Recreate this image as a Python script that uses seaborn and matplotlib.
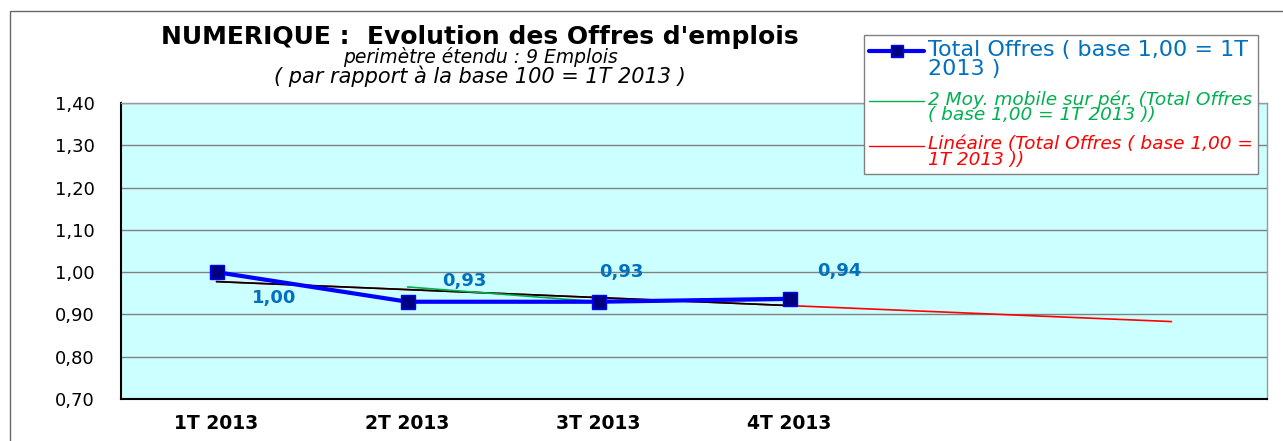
import numpy as np
import pandas as pd
import matplotlib
matplotlib.use("Agg")
import matplotlib.pyplot as plt
import seaborn as sns
from matplotlib.lines import Line2D
from matplotlib.patches import Rectangle
from matplotlib.legend_handler import HandlerLine2D

categories = ["1T 2013", "2T 2013", "3T 2013", "4T 2013"]
values = [1.00, 0.93, 0.93, 0.937]
value_labels = ["1,00", "0,93", "0,93", "0,94"]
ytick_labels = ["0,70", "0,80", "0,90", "1,00", "1,10", "1,20", "1,30", "1,40"]
n_slots = 6
forecast_periods = 2

sns.set_style("white")
plt.rcParams['font.family'] = ['DejaVu Sans']
plt.rcParams['text.color'] = 'black'
plt.rcParams['xtick.color'] = 'black'
plt.rcParams['ytick.color'] = 'black'

fig = plt.figure(figsize=(12.83, 4.41), dpi=100)
ax = fig.add_axes([121/1283, 1-399/441, (1267-121)/1283, (399-103)/441])
ax.set_facecolor("#CCFFFF")

x = np.arange(len(values))
df = pd.DataFrame({"x": x, "y": values})

# linear trend
slope, intercept = np.polyfit(x, values, 1)
xt = np.array([0, len(values) - 1 + forecast_periods])
ax.plot(xt, intercept + slope * xt, color="#FF0000", lw=1.2, zorder=2)
xb = np.array([0, len(values) - 1])
ax.plot(xb, intercept + slope * xb, color="#000000", lw=1.2, zorder=3)

# moving average 2 periods
ma = pd.Series(values).rolling(2).mean()
ax.plot(x[1:], ma[1:], color="#00B050", lw=1.2, zorder=3)

sns.lineplot(data=df, x="x", y="y", ax=ax, color="#0000FF", lw=3,
             marker="s", markersize=10, markerfacecolor="#000080",
             markeredgecolor="#0000FF", markeredgewidth=1, zorder=4)

offsets = [(0.3, -0.06), (0.3, 0.05), (0.12, 0.07), (0.26, 0.065)]
for xi, (yi, lab, off) in enumerate(zip(values, value_labels, offsets)):
    ax.text(xi + off[0], yi + off[1], lab, color="#0070C0", fontsize=13,
            fontweight="bold", ha="center", va="center", zorder=5)

ax.set_xlim(-0.5, n_slots - 0.5)
ax.set_ylim(0.70, 1.40)
ax.set_yticks(np.arange(0.70, 1.401, 0.10))
ax.set_yticklabels(ytick_labels, fontsize=13)
ax.set_xticks(np.arange(-0.5, n_slots, 1.0))
ax.set_xticklabels([])
ax.set_xticks(np.arange(len(categories)), minor=True)
ax.set_xticklabels(categories, minor=True, fontsize=13.5, fontweight="bold")
ax.tick_params(axis="x", which="minor", length=0, pad=11)
ax.tick_params(axis="x", which="major", length=6, direction="out", color="#555555")
ax.tick_params(axis="y", length=6, direction="out", color="#555555", pad=13)
ax.grid(axis="y", color="#808080", lw=1)
ax.set_xlabel("")
ax.set_ylabel("")
for s in ["top", "right"]:
    ax.spines[s].set_color("#999999")
    ax.spines[s].set_linewidth(1)
for s in ["left", "bottom"]:
    ax.spines[s].set_color("#000000")
    ax.spines[s].set_linewidth(1.5)

# chart border
fig.patches.append(Rectangle((10/1283, -0.1), 1.2, 1 - 11/441 + 0.1, transform=fig.transFigure,
                             fill=False, edgecolor="#666666", lw=1, zorder=0))

fig.text(480/1283, 1-37/441, "NUMERIQUE :  Evolution des Offres d'emplois",
         fontsize=18, fontweight="bold", ha="center", va="center")
fig.text(480/1283, 1-57/441, "perimètre étendu : 9 Emplois",
         fontsize=13.5, style="italic", ha="center", va="center")
fig.text(480/1283, 1-76/441, "( par rapport à la base 100 = 1T 2013 )",
         fontsize=15, style="italic", ha="center", va="center")


class RaisedHandler(HandlerLine2D):
    def __init__(self, raise_pts, **kw):
        super().__init__(**kw)
        self.raise_pts = raise_pts

    def create_artists(self, legend, orig_handle, xdescent, ydescent,
                       width, height, fontsize, trans):
        return super().create_artists(legend, orig_handle, xdescent,
                                      ydescent - 2 * self.raise_pts,
                                      width, height, fontsize, trans)


handles = [
    Line2D([], [], color="#0000FF", lw=3, marker="s", markersize=8,
           markerfacecolor="#000080", markeredgecolor="#0000FF"),
    Line2D([], [], color="#00B050", lw=1),
    Line2D([], [], color="#FF0000", lw=1),
]
labels = [
    "Total Offres ( base 1,00 = 1T\n2013 )",
    "2 Moy. mobile sur pér. (Total Offres\n( base 1,00 = 1T 2013 ))",
    "Linéaire (Total Offres ( base 1,00 =\n1T 2013 ))",
]
leg = fig.legend(handles, labels, loc="upper left",
                 bbox_to_anchor=(864/1283, 1-35/441), frameon=True,
                 fancybox=False, edgecolor="#808080", framealpha=1,
                 handlelength=3.3, handletextpad=0.25, borderpad=0.3,
                 labelspacing=0.65, borderaxespad=0, fontsize=12,
                 handler_map={handles[0]: RaisedHandler(8),
                              handles[1]: RaisedHandler(5.5),
                              handles[2]: RaisedHandler(5.5)})
texts = leg.get_texts()
texts[0].set_color("#0070C0"); texts[0].set_fontsize(16)
texts[1].set_color("#00B050"); texts[1].set_fontsize(13.3); texts[1].set_style("italic")
texts[2].set_color("#FF0000"); texts[2].set_fontsize(13.3); texts[2].set_style("italic")
texts[0].set_linespacing(0.95)
texts[1].set_linespacing(0.85)
texts[2].set_linespacing(0.85)
leg.get_frame().set_linewidth(1)

fig.savefig("out.png", dpi=100)
